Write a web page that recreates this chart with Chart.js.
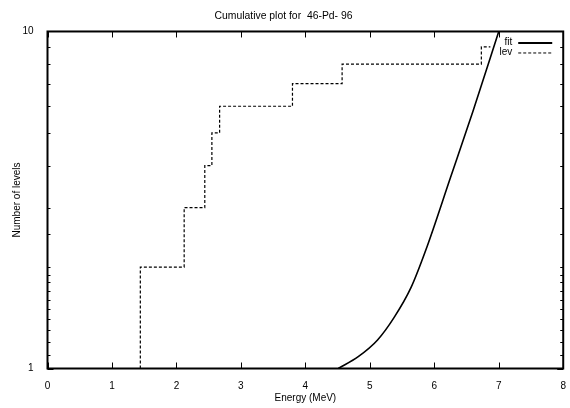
<!DOCTYPE html>
<html>
<head>
<meta charset="utf-8">
<script src="https://cdn.jsdelivr.net/npm/chart.js@4.4.1/dist/chart.umd.min.js"></script>
<style>
  html, body { margin: 0; padding: 0; background: #fff; }
  #wrap { width: 570px; height: 408px; }
</style>
</head>
<body>
<div id="wrap"><canvas id="cum-chart" width="570" height="408"></canvas></div>
<script>
// data
const levEnergy = [1.44, 1.44, 2.12, 2.44, 2.55, 2.67, 3.80, 4.57, 6.73, 6.87];
const levCount  = [1, 2, 3, 4, 5, 6, 7, 8, 9, 9];

const fitEnergy = [4.51, 4.82, 5.12, 5.38, 5.64, 5.87, 6.25, 6.60, 7.00];
const fitCount  = [1.0, 1.084, 1.215, 1.42, 1.74, 2.25, 3.68, 5.8, 10.0];

const xTicks = [0, 1, 2, 3, 4, 5, 6, 7, 8];
const legendNames = ["fit", "lev"];

const FONT = "'Liberation Sans', Arial, Helvetica, sans-serif";

const toPoints = (xs, ys) => xs.map((x, i) => ({ x: x, y: ys[i] }));

// gnuplot-ish frame, inward ticks and key
const framePlugin = {
  id: "frame",
  afterDraw(chart) {
    const ctx = chart.ctx;
    const a = chart.chartArea;
    const xs = chart.scales.x;
    const ys = chart.scales.y;
    ctx.save();
    ctx.strokeStyle = "#000";
    ctx.lineWidth = 1;
    ctx.beginPath();
    xTicks.forEach(v => {
      const px = Math.round(xs.getPixelForValue(v)) + 0.5;
      ctx.moveTo(px, a.bottom); ctx.lineTo(px, a.bottom - 6);
      ctx.moveTo(px, a.top); ctx.lineTo(px, a.top + 6);
    });
    ys.ticks.forEach(t => {
      const py = Math.round(ys.getPixelForValue(t.value)) + 0.5;
      const len = (t.value === 1 || t.value === 10) ? 6 : 3;
      ctx.moveTo(a.left, py); ctx.lineTo(a.left + len, py);
      ctx.moveTo(a.right, py); ctx.lineTo(a.right - len, py);
    });
    ctx.stroke();

    ctx.lineWidth = 2;
    ctx.strokeRect(a.left, a.top, a.right - a.left, a.bottom - a.top);

    // key
    ctx.font = "10px " + FONT;
    ctx.fillStyle = "#000";
    ctx.textAlign = "right";
    ctx.textBaseline = "middle";
    const kx = a.right - 51, ky = a.top + 11;
    legendNames.forEach((name, i) => {
      const y = ky + i * 10;
      ctx.fillText(name, kx, y);
      ctx.beginPath();
      ctx.lineWidth = i === 0 ? 2 : 1;
      ctx.setLineDash(i === 0 ? [] : [3, 2]);
      ctx.moveTo(kx + 6, y + 0.5);
      ctx.lineTo(kx + 40, y + 0.5);
      ctx.stroke();
    });
    ctx.restore();
  }
};

new Chart(document.getElementById("cum-chart"), {
  type: "line",
  data: {
    datasets: [
      {
        label: "fit",
        data: toPoints(fitEnergy, fitCount),
        borderColor: "#000",
        borderWidth: 1.6,
        pointRadius: 0,
        cubicInterpolationMode: "monotone",
        fill: false
      },
      {
        label: "lev",
        data: toPoints(levEnergy, levCount),
        borderColor: "#000",
        borderWidth: 1.2,
        borderDash: [3, 2],
        pointRadius: 0,
        stepped: "before",   // horizontal first, then the rise
        fill: false
      }
    ]
  },
  options: {
    responsive: false,
    animation: false,
    layout: { padding: { left: 0, right: 3, top: 0, bottom: 4 } },
    plugins: {
      legend: { display: false },
      tooltip: { enabled: false },
      title: {
        display: true,
        text: "Cumulative plot for  46-Pd- 96",
        color: "#000",
        font: { family: FONT, size: 10.4, weight: "normal" },
        padding: { top: 9.5, bottom: 9.5 }
      }
    },
    scales: {
      x: {
        type: "linear",
        min: 0,
        max: 8,
        afterBuildTicks: s => { s.ticks = xTicks.map(v => ({ value: v })); },
        grid: { display: false },
        border: { display: false },
        ticks: {
          color: "#000",
          padding: 4,
          maxRotation: 0,
          font: { family: FONT, size: 10 }
        },
        title: {
          display: true,
          text: "Energy (MeV)",
          color: "#000",
          font: { family: FONT, size: 10 },
          padding: { top: 0, bottom: 0 }
        },
        afterFit: s => { s.height = 35.5; }
      },
      y: {
        type: "logarithmic",
        min: 1,
        max: 10,
        grid: { display: false },
        border: { display: false },
        ticks: {
          color: "#000",
          padding: 6,
          autoSkip: false,
          font: { family: FONT, size: 10 },
          callback: v => (v === 1 || v === 10) ? String(v) : ""
        },
        title: {
          display: true,
          text: "Number of levels",
          color: "#000",
          font: { family: FONT, size: 10 },
          padding: { top: 11, bottom: 0 }
        },
        afterFit: s => { s.width = 47.5; }
      }
    }
  },
  plugins: [framePlugin]
});
</script>
</body>
</html>
